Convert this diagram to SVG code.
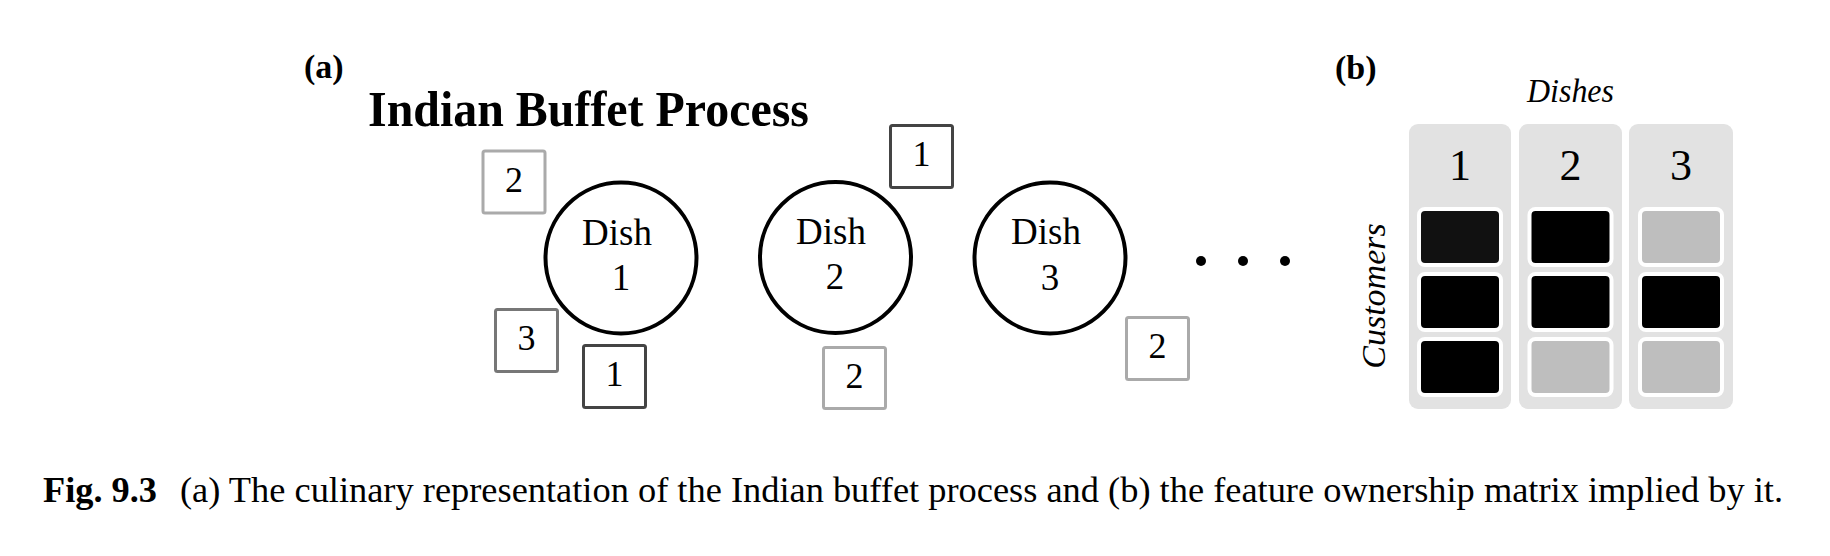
<svg xmlns="http://www.w3.org/2000/svg" width="1830" height="556" viewBox="0 0 1830 556">
<style>
.serif{font-family:"Liberation Serif","Times New Roman",serif;fill:#000}
.dish{fill:#fff;stroke:#000;stroke-width:4}
.dl{font-size:37px;text-anchor:middle}
.box{fill:#fff;stroke-width:3}
.light{stroke:#aaa}
.mid{stroke:#777}
.dark{stroke:#444}
.bl{font-size:36px;text-anchor:middle}
.col{fill:#e2e2e2}
.cell{stroke:#fff;stroke-width:4}
.k{fill:#000}
.k1{fill:#111}
.g{fill:#bebebe}
.ital{font-style:italic}
</style>
<rect width="1830" height="556" fill="#fff"/>
<text class="serif" x="304" y="78" font-size="34" font-weight="bold">(a)</text>
<text class="serif" x="368" y="126" font-size="50" font-weight="bold" textLength="441" lengthAdjust="spacingAndGlyphs">Indian Buffet Process</text>

<g id="dish1">
<circle class="dish" cx="621" cy="258" r="75.5"/>
<text class="serif dl" x="617" y="245">Dish</text>
<text class="serif dl" x="621" y="290">1</text>
</g>
<g id="dish2">
<circle class="dish" cx="835.5" cy="257.5" r="75.5"/>
<text class="serif dl" x="831" y="244">Dish</text>
<text class="serif dl" x="835" y="289">2</text>
</g>
<g id="dish3">
<circle class="dish" cx="1050" cy="258" r="75.5"/>
<text class="serif dl" x="1046" y="244">Dish</text>
<text class="serif dl" x="1050" y="290">3</text>
</g>
<g id="dots">
<circle cx="1201" cy="261" r="5"/>
<circle cx="1243" cy="261" r="5"/>
<circle cx="1285" cy="261" r="5"/>
</g>

<g id="cust-d1-2">
<rect class="box light" x="483" y="151" width="62" height="62" rx="2"/>
<text class="serif bl" x="514" y="192">2</text>
</g>
<g id="cust-d1-3">
<rect class="box mid" x="495.5" y="309.5" width="62" height="62" rx="2"/>
<text class="serif bl" x="526.5" y="350">3</text>
</g>
<g id="cust-d1-1">
<rect class="box dark" x="583.5" y="345.5" width="62" height="62" rx="2"/>
<text class="serif bl" x="614.5" y="386">1</text>
</g>
<g id="cust-d2-1">
<rect class="box dark" x="890.5" y="125.5" width="62" height="62" rx="2"/>
<text class="serif bl" x="921.5" y="166">1</text>
</g>
<g id="cust-d2-2">
<rect class="box light" x="823.5" y="347.5" width="62" height="61" rx="2"/>
<text class="serif bl" x="854.5" y="388">2</text>
</g>
<g id="cust-d3-2">
<rect class="box light" x="1126.5" y="317.5" width="62" height="62" rx="2"/>
<text class="serif bl" x="1157.5" y="358">2</text>
</g>

<text class="serif" x="1335" y="79" font-size="34" font-weight="bold">(b)</text>
<text class="serif ital" x="1527" y="102" font-size="34" textLength="87" lengthAdjust="spacingAndGlyphs">Dishes</text>
<text class="serif ital" font-size="34" text-anchor="middle" transform="translate(1385,296) rotate(-90)">Customers</text>

<g id="matrix-col1">
<rect class="col" x="1409" y="124" width="102" height="285" rx="9"/>
<text class="serif" x="1460" y="180" font-size="44" text-anchor="middle">1</text>
<rect class="cell k1" x="1419" y="209" width="82" height="56" rx="6"/>
<rect class="cell k" x="1419" y="274" width="82" height="56" rx="6"/>
<rect class="cell k" x="1419" y="339" width="82" height="56" rx="6"/>
</g>
<g id="matrix-col2">
<rect class="col" x="1519" y="124" width="103" height="285" rx="9"/>
<text class="serif" x="1570.5" y="180" font-size="44" text-anchor="middle">2</text>
<rect class="cell k" x="1529.5" y="209" width="82" height="56" rx="6"/>
<rect class="cell k" x="1529.5" y="274" width="82" height="56" rx="6"/>
<rect class="cell g" x="1529.5" y="339" width="82" height="56" rx="6"/>
</g>
<g id="matrix-col3">
<rect class="col" x="1629" y="124" width="104" height="285" rx="9"/>
<text class="serif" x="1681" y="180" font-size="44" text-anchor="middle">3</text>
<rect class="cell g" x="1640" y="209" width="82" height="56" rx="6"/>
<rect class="cell k" x="1640" y="274" width="82" height="56" rx="6"/>
<rect class="cell g" x="1640" y="339" width="82" height="56" rx="6"/>
</g>

<g id="connectors"></g>

<text class="serif" x="43" y="502" font-size="36" font-weight="bold" textLength="114" lengthAdjust="spacingAndGlyphs">Fig. 9.3</text>
<text class="serif" x="180" y="502" font-size="36" textLength="1603" lengthAdjust="spacingAndGlyphs">(a) The culinary representation of the Indian buffet process and (b) the feature ownership matrix implied by it.</text>
</svg>
